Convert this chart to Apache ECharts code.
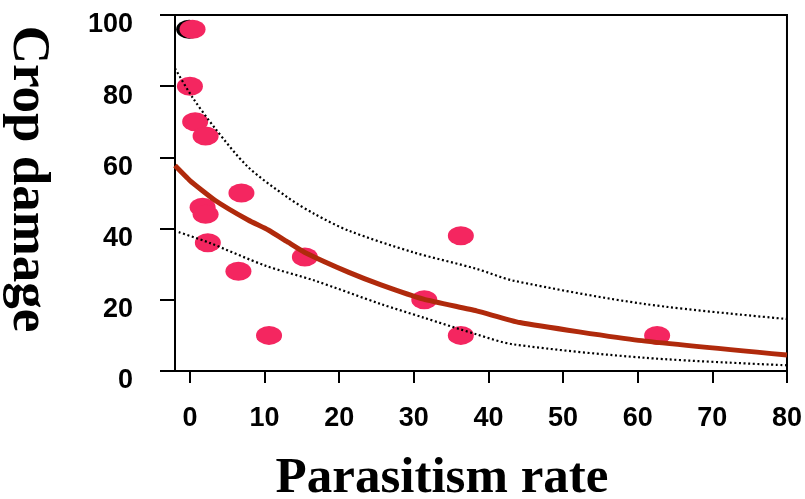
<!DOCTYPE html>
<html>
<head>
<meta charset="utf-8">
<script src="https://cdn.jsdelivr.net/npm/echarts@6/dist/echarts.min.js"></script>
<style>html,body{margin:0;padding:0;background:#fff;}#c{width:805px;height:499px;}</style>
</head>
<body>
<div id="c"></div>
<script>
// Data
var xTicks = [0, 10, 20, 30, 40, 50, 60, 70, 80];
var yTicks = [0, 20, 40, 60, 80, 100];
var obsX = [0.35, 0, 0.7, 2.1, 6.9, 1.7, 2.1, 2.4, 6.5, 10.6, 15.4, 31.4, 36.3, 36.3, 62.6];
var obsY = [96, 80, 70, 66, 50, 46, 44, 36, 28, 10, 32, 20, 38, 10, 10];
var shadowX = [-0.1];
var shadowY = [96];
var fitX = [-2, 0, 3.4, 7.8, 10.5, 13.2, 15.4, 21.3, 25.6, 31.3, 38.4, 44.2, 60.1, 80];
var fitY = [57.7, 53.5, 47.9, 42.4, 39.6, 36.1, 33.3, 27.7, 24.2, 20.2, 16.9, 13.6, 8.6, 4.5];
var upX = [-2, 0.3, 3.4, 7.8, 13.2, 16.7, 21.3, 30, 38.4, 43.3, 61, 80];
var upY = [85, 77, 68.1, 57.3, 48.6, 44.1, 39.4, 33.3, 28.7, 25.4, 18.8, 14.6];
var loX = [-1.5, 2.5, 10.1, 16.7, 25.6, 31.3, 38.4, 43.3, 61, 80];
var loY = [39, 36.1, 29.6, 25.4, 18.8, 15, 10.3, 7.5, 3.7, 1.6];

function zip(a, b) { return a.map(function (v, i) { return [v, b[i]]; }); }

var chart = echarts.init(document.getElementById('c'), null, { renderer: 'canvas' });
var labelFont = { fontFamily: 'Liberation Sans, Arial, sans-serif', fontWeight: 'bold', fontSize: 27, color: '#000' };
chart.setOption({
  animation: false,
  backgroundColor: '#fff',
  grid: { left: 175, top: 15, right: 12, bottom: 128, show: true, borderColor: '#000', borderWidth: 2, backgroundColor: 'transparent' },
  xAxis: {
    type: 'value', min: -2, max: 80,
    axisLine: { show: true, onZero: false, lineStyle: { color: '#000', width: 2 } },
    axisTick: { show: true, inside: false, length: 12, customValues: xTicks, lineStyle: { color: '#000', width: 2 } },
    axisLabel: Object.assign({ margin: 34, customValues: xTicks }, labelFont),
    splitLine: { show: false }
  },
  yAxis: {
    type: 'value', min: 0, max: 100, interval: 20,
    axisLine: { show: true, onZero: false, lineStyle: { color: '#000', width: 2 } },
    axisTick: { show: true, inside: false, length: 15, lineStyle: { color: '#000', width: 2 } },
    axisLabel: Object.assign({ margin: 42, verticalAlign: 'top', lineHeight: 20 }, labelFont),
    splitLine: { show: false }
  },
  series: [
    { type: 'scatter', data: zip(shadowX, shadowY), symbol: 'circle', symbolSize: [26, 19], itemStyle: { color: '#000', opacity: 1 }, z: 1 },
    { type: 'scatter', data: zip(obsX, obsY), symbol: 'circle', symbolSize: [26, 19], itemStyle: { color: '#f42660', opacity: 1 }, z: 2 },
    { type: 'line', data: zip(upX, upY), showSymbol: false, symbol: 'none', smooth: 0.3, lineStyle: { color: '#000', width: 2.2, type: [2, 2.6] }, z: 3 },
    { type: 'line', data: zip(loX, loY), showSymbol: false, symbol: 'none', smooth: 0.3, lineStyle: { color: '#000', width: 2.2, type: [2, 2.6] }, z: 3 },
    { type: 'line', data: zip(fitX, fitY), showSymbol: false, symbol: 'none', smooth: 0.15, lineStyle: { color: '#b02a0c', width: 5 }, z: 4 }
  ],
  graphic: [
    { type: 'text', x: 442, y: 479, style: { text: 'Parasitism rate', fontFamily: 'Liberation Serif, Times New Roman, serif', fontWeight: 'bold', fontSize: 51, fill: '#000', align: 'center', verticalAlign: 'middle' } },
    { type: 'text', x: 28, y: 179, rotation: -Math.PI / 2, style: { text: 'Crop damage', fontFamily: 'Liberation Serif, Times New Roman, serif', fontWeight: 'bold', fontSize: 53, fill: '#000', align: 'center', verticalAlign: 'middle' } }
  ]
});
</script>
</body>
</html>
